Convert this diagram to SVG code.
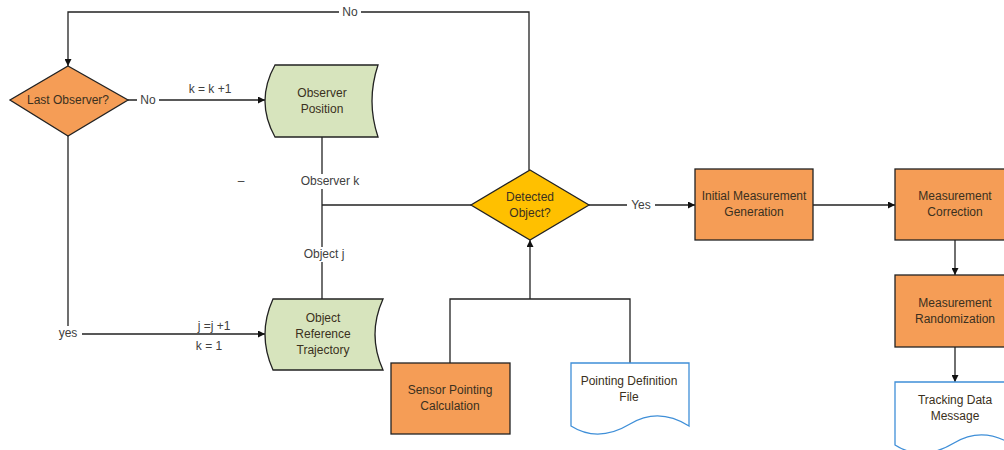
<svg xmlns="http://www.w3.org/2000/svg" width="1004" height="450" viewBox="0 0 1004 450">
<style>
.ln{fill:none;stroke:#222;stroke-width:1.3}
.box{fill:#F59D56;stroke:#222;stroke-width:1.3}
.grn{fill:#D7E4BD;stroke:#222;stroke-width:1.3}
.doc{fill:#fff;stroke:#3F8FD8;stroke-width:1.3}
.gold{fill:#FFC000;stroke:#222;stroke-width:1.3}
text{font-family:"Liberation Sans",Arial,sans-serif;text-anchor:middle;dominant-baseline:central}
.t{font-size:12px;fill:#3a3020}
.l{font-size:12px;fill:#404040}
.bg{fill:#fff}
</style>
<defs>
<marker id="ah" viewBox="0 0 10 10" refX="10" refY="5" markerWidth="10" markerHeight="7" markerUnits="userSpaceOnUse" orient="auto">
<path d="M0,0 L10,5 L0,10 Z" fill="#111"/>
</marker>
</defs>
<g id="connectors">
<path class="ln" d="M529,170 V12 H68 V66" marker-end="url(#ah)"/>
<path class="ln" d="M128,100 H265" marker-end="url(#ah)"/>
<path class="ln" d="M322,137 V299"/>
<path class="ln" d="M322,205 H471"/>
<path class="ln" d="M68,136 V334 H265" marker-end="url(#ah)"/>
<path class="ln" d="M450,363 V299 H630 V363"/>
<path class="ln" d="M530,299 V240" marker-end="url(#ah)"/>
<path class="ln" d="M589,205 H695" marker-end="url(#ah)"/>
<path class="ln" d="M813,205 H895" marker-end="url(#ah)"/>
<path class="ln" d="M955,240 V275" marker-end="url(#ah)"/>
<path class="ln" d="M955,347 V382" marker-end="url(#ah)"/>
<rect class="bg" x="339" y="5" width="22" height="14"/>
<text class="l" x="350" y="12">No</text>
<rect class="bg" x="137" y="93" width="22" height="14"/>
<text class="l" x="148" y="100">No</text>
<text class="l" x="210" y="89">k = k +1</text>
<rect class="bg" x="297" y="174" width="66" height="15"/>
<text class="l" x="330" y="181">Observer k</text>
<rect class="bg" x="299" y="247" width="50" height="15"/>
<text class="l" x="324" y="254">Object j</text>
<text class="l" x="241" y="181">–</text>
<rect class="bg" x="55" y="326" width="27" height="15"/>
<text class="l" x="68" y="333">yes</text>
<text class="l" x="214" y="326">j =j +1</text>
<text class="l" x="209" y="346">k = 1</text>
<rect class="bg" x="627" y="198" width="28" height="14"/>
<text class="l" x="641" y="205">Yes</text>
</g>
<g id="last-observer">
<path class="box" d="M68,66 L128,100 L68,136 L10,100 Z"/>
<text class="t" x="68" y="100">Last Observer?</text>
</g>
<g id="observer-position">
<path class="grn" d="M275,65 H378 Q366,101 378,137 H275 Q255,101 275,65 Z"/>
<text class="t" x="322" y="93">Observer</text>
<text class="t" x="322" y="109">Position</text>
</g>
<g id="object-reference-trajectory">
<path class="grn" d="M273,299 H383 Q367,334.5 383,370 H273 Q257,334.5 273,299 Z"/>
<text class="t" x="323" y="318">Object</text>
<text class="t" x="323" y="334">Reference</text>
<text class="t" x="323" y="350">Trajectory</text>
</g>
<g id="detected-object">
<path class="gold" d="M530,170 L589,205 L530,240 L471,205 Z"/>
<text class="t" x="530" y="197">Detected</text>
<text class="t" x="530" y="213">Object?</text>
</g>
<g id="sensor-pointing">
<rect class="box" x="391" y="363" width="119" height="71"/>
<text class="t" x="450" y="390">Sensor Pointing</text>
<text class="t" x="450" y="406">Calculation</text>
</g>
<g id="pointing-definition-file">
<path class="doc" d="M571,363 H689 V426 C670,414 650,412 630,424 C610,436 590,438 571,426 Z"/>
<text class="t" x="629" y="381">Pointing Definition</text>
<text class="t" x="629" y="397">File</text>
</g>
<g id="initial-measurement">
<rect class="box" x="695" y="169" width="118" height="71"/>
<text class="t" x="754" y="196">Initial Measurement</text>
<text class="t" x="754" y="212">Generation</text>
</g>
<g id="measurement-correction">
<rect class="box" x="895" y="169" width="118" height="71"/>
<text class="t" x="955" y="196">Measurement</text>
<text class="t" x="955" y="212">Correction</text>
</g>
<g id="measurement-randomization">
<rect class="box" x="895" y="275" width="118" height="72"/>
<text class="t" x="955" y="303">Measurement</text>
<text class="t" x="955" y="319">Randomization</text>
</g>
<g id="tracking-data-message">
<path class="doc" d="M895,382 H1013 V445 C994,433 974,431 954,443 C934,455 914,457 895,445 Z"/>
<text class="t" x="955" y="400">Tracking Data</text>
<text class="t" x="955" y="416">Message</text>
</g>
</svg>
